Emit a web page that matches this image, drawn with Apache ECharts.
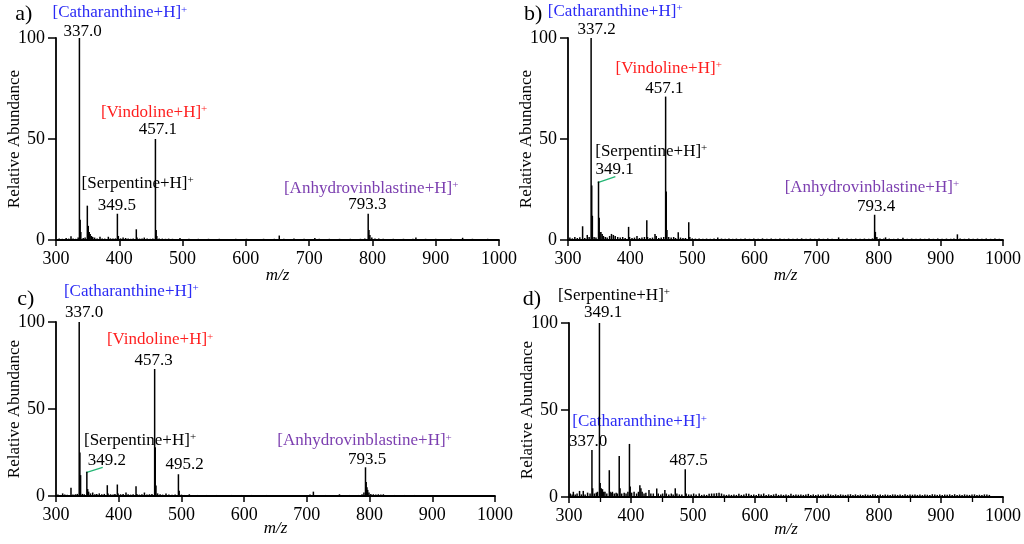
<!DOCTYPE html>
<html><head><meta charset="utf-8">
<script src="https://cdn.jsdelivr.net/npm/echarts@6/dist/echarts.min.js"></script>
<style>html,body{margin:0;padding:0;background:#fff}#c{width:1024px;height:544px}</style>
</head><body><div id="c"></div>
<script>
// ---- data (m/z, relative abundance) ----
const xTicks = [300,400,500,600,700,800,900,1000];
const yTicks = [0,50,100];

const aMz = [305,310,316,320,323.7,327,331,335,337.0,338.2,339.2,343,346,349.5,351,352.5,354,356,358,361,365,369.5,373,377,382.7,386,390,394,397,398.5,402,406,410,414,418,422,426.9,428,432,436,439.5,444,449,453,457.1,458.3,459.3,463,468,473,478,484,489,495.9,502,510,518,525,533,541,550,558,567,575,584,593,601,610,619,628,637,645,652.8,660,668,676,684,692,700,709,716,724,732,740,748,757,765,773,781,788,793.3,794.5,796,799,804,810,817,825,833,841,849,857,864,868.7,876,884,892,900,908,916,924,932,942.5,950,958,966,974,982,990,997];
const aAbund = [0.8,0.6,1.0,0.7,1.8,0.8,0.6,1.2,100,10,4,1.0,1.2,17,7,4,3,2,1.5,1.2,0.8,1.6,0.8,0.7,1.6,0.8,0.7,0.8,13,2,0.8,1.2,1.0,0.7,0.6,0.8,5.3,1.2,0.7,0.8,1.2,0.7,0.6,0.8,50,5,2,0.8,0.7,0.6,0.7,0.6,0.5,1.0,0.5,0.6,0.5,0.6,0.5,0.6,0.5,0.6,0.5,0.5,0.6,0.5,0.6,0.5,0.5,0.6,0.5,0.6,2.2,0.6,0.5,0.7,0.5,0.6,0.5,1.0,0.6,0.5,0.6,0.5,0.6,0.5,0.6,0.5,0.6,0.8,13,5,2.5,1.2,0.8,0.7,0.6,0.5,0.6,0.5,0.6,0.5,0.6,1.2,0.5,0.6,0.5,0.6,0.5,0.5,0.6,0.5,1.1,0.5,0.6,0.5,0.5,0.6,0.5,0.5];

const bMz = [303,307,311,315,319,323.5,327,331,334,337.2,338.2,339.2,342,345,349.1,350.2,351.5,353,355,357,360,363,367,370,373,376,380,384,388,392,397.5,399,403,407,411,415,419,423,426.8,428,432,436,440,442,446,450,454,457.1,458.1,459.2,462,466,470,473,477.4,481,485,489,494.3,496,500,505,511,517,523,529,535,541,547,553,559,565,571,578,585,592,599,606,613,620,627,634,641,648,655,662,669,676,683,690,697,704,711,718,725,735.5,742,749,756,763,770,777,784,790,793.4,794.6,797,802,808,811,817,824,831,839,846,853,860,867,874,881,888,895,902,909,916,921,926.6,931,938,945,952,959,966,973,980,987,994];
const bAbund = [1.2,0.8,1.5,1.0,1.3,6.8,1.0,2.5,1.5,100,27,12,1.5,1.2,29,11,4,4,3,2,1.5,1.2,2,3,2.5,2,1.5,1.2,1.5,1.0,6.5,1.5,1.0,1.2,2,1.0,1.2,1.5,9.8,1.5,1.0,1.2,3,2,1.0,1.2,1.5,71,24,5,1.5,1.2,1.5,1.0,3.8,1.2,1.0,1.0,8.8,1.5,0.8,0.7,0.8,0.6,0.7,0.6,0.8,1.2,0.7,0.6,0.8,0.6,0.7,0.6,0.7,0.6,0.7,0.6,0.8,0.6,0.7,0.6,0.7,0.6,0.7,0.6,0.7,0.8,0.6,0.7,0.6,0.7,0.6,0.7,0.6,1.3,0.6,0.7,0.6,0.7,0.6,0.7,0.6,0.8,12.5,4,1.5,0.8,0.7,1.3,0.7,0.6,0.7,1.1,0.6,0.7,0.6,0.7,0.6,0.7,0.6,0.7,0.6,0.7,0.6,0.8,2.8,0.7,0.6,0.7,0.6,0.7,0.6,0.7,0.6,0.7,0.6];

const cMz = [303,307,310.6,314,318,323.9,327,331,334,337.0,338.1,339.2,342,345,349.2,350.5,352,355,358.5,362,365,369,373,377,381.8,383,387,391,394,397.8,399,403,407,411.6,415,419,423,427.6,429,433,437,441,445,449,453,457.3,458.3,459.4,462,466,470,475.4,480,485,490,495.2,496.4,500,505,512.6,519,526,533,540,548,556,564,572,580,588,596,604,612,620,628,636,644,652,660,668,676,684,692,700,705,710.4,716,722,730,738,745,752,760,768,775,782,788,791,793.5,794.6,795.8,797,799,802,806,810,814,818,822,826,833,840,848,856,864,872,880,888,896,904,912,920,928,936,944,952,960,968,976,984,992];
const cAbund = [0.8,0.6,1.5,0.8,0.7,4.8,0.8,1.0,1.2,100,25,12,1.2,1.0,14,4,2.5,1.5,2,1.0,1.2,1.5,1.0,1.2,6.2,1.5,1.0,0.8,1.2,6.6,1.5,1.0,1.2,2,1.0,0.8,1.0,5.6,1.2,0.8,1.0,2,0.8,1.0,1.2,73,28,6,1.5,1.0,0.8,1.5,0.8,0.7,0.8,12.5,3,0.8,0.6,1.0,0.5,0.6,0.5,0.6,0.5,0.6,0.5,0.5,0.6,0.5,0.6,0.5,0.6,0.5,0.5,0.6,0.5,0.6,0.5,0.6,0.5,0.6,0.5,0.6,0.8,2.5,0.6,0.5,0.6,0.5,0.6,1.0,0.5,0.6,0.5,0.6,1.0,2,16.5,8,5,3.5,2,1.2,1.0,0.8,1.0,0.9,1.0,0.6,0.5,0.6,0.5,0.6,0.5,0.6,0.5,0.6,0.5,0.6,0.5,0.6,0.5,0.6,0.5,0.6,0.5,0.6,0.5,0.6,0.5];

const dMz = [302,305,307,310,313,317,320,323,326,330,334,337.0,338.2,341,344,346,349.1,350.3,352,354,356,358,361,365,366.3,368,370,373,376,378,381,382.3,385,389,392,395,397.5,398.7,401,405,409,412,414.3,416,418,421,424,429,432,436,441.5,444,448,451,454.6,457,461,465,468,471.4,474,478,482,487.5,489,493,497,501,505,510,514,518,522,526,530,534,538,542,546,550,554,558,562,566,570,574,578,582,586,590,594,598,602,606,610,614,618,622,626,630,634,638,642,646,650,654,658,662,666,670,674,678,682,686,690,694,698,702,706,710,714,718,722,726,730,734,738,742,746,750,754,758,762,766,770,774,778,782,786,790,794,798,802,806,810,814,818,822,826,830,834,838,842,846,850,854,858,862,866,870,874,878,882,886,890,894,898,902,906,910,914,918,922,926,930,934,938,942,946,950,954,958,962,966,970,974,978,982,986,990,994,998];
const dAbund = [2,1.5,3,1.5,2,3.5,1.5,3.5,1.5,2.5,2,27,5,2,2.5,3,100,8,5,4.5,3,3,2,15.4,3,2.5,3,2,2.5,2,23.5,5,2,2.5,2,3,30.5,6,2.5,3,2,3,6.7,5,3,2,2.5,4,2,2,4.9,2,1.5,2,4,2,1.5,2,1.5,5,2,1.5,1.5,16,2,1.5,1.5,2,1.5,2,1.2,1.5,1.2,1.8,2,2,2.2,2.5,2,1.5,1.2,1.5,1.2,1.5,1.2,1.8,1.2,1.5,2,1.8,1.2,1.5,1.2,1.8,1.5,2,1.2,1.5,1.2,1.5,1.8,1.2,1.5,1.2,1.5,1.1,1.8,1.2,1.5,1.3,1.5,1.2,1.4,1.8,1.2,1.5,1.1,1.5,1.2,1.5,1.3,1.8,1.4,1.2,1.5,1.1,1.5,1.3,1.2,1.4,1.6,1.2,1.5,1.1,1.4,1.2,1.5,1.3,1.2,1.6,1.5,1.2,1.4,1.1,1.5,1.3,1.2,1.5,1.4,1.2,1.5,1.1,1.6,1.2,1.4,1.3,1.5,1.2,1.4,1.1,1.5,1.3,1.2,1.6,1.4,1.2,1.5,1.1,1.4,1.3,1.5,1.2,1.6,1.1,1.4,1.2,1.5,1.3,1.2,1.4,1.5,1.1,1.3,1.2,1.5,1.4,1.2];

// ---- annotations: [text, color, anchor m/z, anchor abundance] ----
const annA = [["a)","#000",249,111.6,"panel"],["[Catharanthine+H]{sup|+}","#2b2bf5",401,112.5],["337.0","#000",342,103.3],["[Vindoline+H]{sup|+}","#ff1f1f",455,63.1],["457.1","#000",461,54.5],["[Serpentine+H]{sup|+}","#000",429,28.1],["349.5","#000",396,17.0],["[Anhydrovinblastine+H]{sup|+}","#7c3fb0",798,25.6],["793.3","#000",792,17.4]];
const annB = [["b)","#000",244,111.6,"panel"],["[Catharanthine+H]{sup|+}","#2b2bf5",376,113.2],["337.2","#000",346,104.1],["[Vindoline+H]{sup|+}","#ff1f1f",462,85.1],["457.1","#000",455,75.2],["[Serpentine+H]{sup|+}","#000",434,43.8],["349.1","#000",375,35.0],["[Anhydrovinblastine+H]{sup|+}","#7c3fb0",789,26.1],["793.4","#000",796,16.5]];
const annC = [["c)","#000",252,112.9,"panel"],["[Catharanthine+H]{sup|+}","#2b2bf5",420,117.6],["337.0","#000",345,105.2],["[Vindoline+H]{sup|+}","#ff1f1f",466,89.8],["457.3","#000",455.5,77.9],["[Serpentine+H]{sup|+}","#000",434,32.1],["349.2","#000",381,20.6],["495.2","#000",505,18.3],["[Anhydrovinblastine+H]{sup|+}","#7c3fb0",792,31.7],["793.5","#000",796,21]];
const annD = [["d)","#000",240,113.4,"panel"],["[Serpentine+H]{sup|+}","#000",372.5,115.9],["349.1","#000",355,105.8],["[Catharanthine+H]{sup|+}","#2b2bf5",414,43.3],["337.0","#000",331,31.7],["487.5","#000",493,21.2]];
// leader lines [panel, mz1, y1, mz2, y2]
const leaders = [[1,347.9,28.4,376.2,31.4],[2,347.8,13.5,374.5,16.4]];

const FONT = "'Liberation Serif','Times New Roman',serif";
const grids = [
  {left:56, top:38, width:443, height:202},
  {left:568, top:38, width:439, height:202},
  {left:56, top:322, width:439, height:174},
  {left:569, top:323, width:434, height:174}
];
const panels = [[aMz,aAbund],[bMz,bAbund],[cMz,cAbund],[dMz,dAbund]];

const chart = echarts.init(document.getElementById('c'), null, {renderer:'canvas'});
const xAxes = grids.map((g,i)=>({
  type:'value', gridIndex:i, min:xTicks[0], max:xTicks[xTicks.length-1], interval:100,
  name:'m/z', nameLocation:'middle', nameGap:i<2?27:24, nameMoveOverlap:false,
  nameTextStyle:{fontFamily:FONT, fontStyle:'italic', fontSize:17, color:'#000'},
  axisLine:{show:true, onZero:false, lineStyle:{color:'#000', width:1.8}},
  axisTick:{show:true, inside:false, length:6, lineStyle:{color:'#000', width:1.5}},
  minorTick:{show:i===3, splitNumber:2, length:5, lineStyle:{color:'#000', width:1.3}},
  axisLabel:{fontFamily:FONT, fontSize:18, color:'#000', margin:10, formatter:(v)=>String(v)},
  splitLine:{show:false}
}));
const yAxes = grids.map((g,i)=>({
  type:'value', gridIndex:i, min:yTicks[0], max:yTicks[yTicks.length-1], interval:50,
  name:'Relative Abundance', nameLocation:'middle', nameGap:33, nameRotate:90, nameMoveOverlap:false,
  nameTextStyle:{fontFamily:FONT, fontSize:17, color:'#000'},
  axisLine:{show:true, lineStyle:{color:'#000', width:1.8}},
  axisTick:{show:true, inside:false, length:8, lineStyle:{color:'#000', width:1.5}},
  axisLabel:{fontFamily:FONT, fontSize:18, color:'#000', margin:11, formatter:(v)=>String(v)},
  splitLine:{show:false}
}));
const series = panels.map((p,i)=>({
  type:'bar', xAxisIndex:i, yAxisIndex:i, barWidth:1.5,
  itemStyle:{color:'#000'},
  data:p[0].map((m,k)=>[m,p[1][k]])
}));
chart.setOption({
  animation:false, backgroundColor:'#fff',
  grid:grids, xAxis:xAxes, yAxis:yAxes, series:series
});

const graphics = [];
[annA,annB,annC,annD].forEach((list,gi)=>{
  list.forEach(a=>{
    const pt = chart.convertToPixel({gridIndex:gi}, [a[2],a[3]]);
    const isPanel = a[4]==='panel';
    graphics.push({
      type:'text', x:pt[0], y:pt[1], silent:true,
      style:{
        text:a[0], fill:a[1], fontFamily:FONT, fontSize:isPanel?22:17,
        align:'center', verticalAlign:'middle',
        rich:{sup:{fontSize:11, fill:a[1], fontFamily:FONT, verticalAlign:'top', lineHeight:11}}
      }
    });
  });
});
leaders.forEach(l=>{
  const p1 = chart.convertToPixel({gridIndex:l[0]}, [l[1],l[2]]);
  const p2 = chart.convertToPixel({gridIndex:l[0]}, [l[3],l[4]]);
  graphics.push({type:'line', silent:true, shape:{x1:p1[0],y1:p1[1],x2:p2[0],y2:p2[1]}, style:{stroke:'#22b573', lineWidth:1.3}});
});
chart.setOption({graphic:graphics});
</script></body></html>
